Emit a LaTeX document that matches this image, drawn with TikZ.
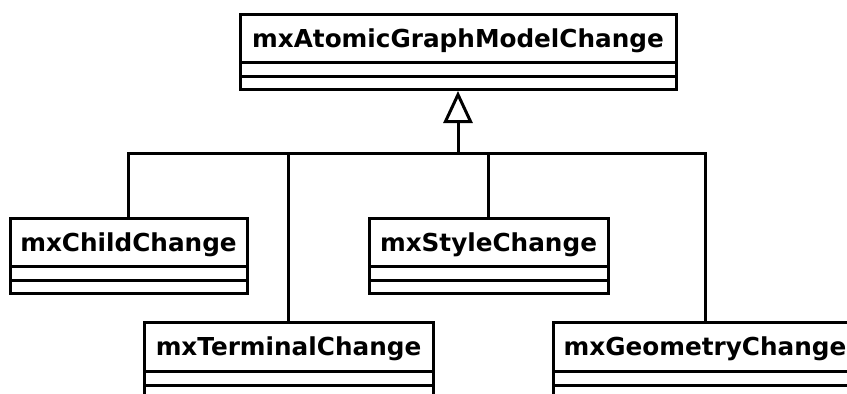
\documentclass[tikz,border=0pt]{standalone}
\usepackage{fontspec}
\newfontfamily\umlfont{DejaVu Sans}
\usetikzlibrary{arrows.meta,positioning}

\begin{document}
\begin{tikzpicture}[x=1pt,y=-1pt,line width=3pt,line join=miter]
  \tikzstyle{classname}=[rectangle,draw,anchor=north west,inner sep=0pt,outer sep=0pt,minimum height=48pt,text depth=0pt,font=\umlfont\bfseries\fontsize{24.7}{30}\selectfont]
  \tikzstyle{classpart}=[rectangle,draw,inner sep=0pt,outer sep=0pt,minimum height=14pt]
  \tikzstyle{inherit}=[-{Triangle[open,length=32pt,width=29pt]},shorten >=2pt]
  \useasboundingbox (0,0) rectangle (847,394);
  \clip (0,0) rectangle (847,394);
  % parent class
  \node[classname,minimum width=436pt] (top) at (240,14) {mxAtomicGraphModelChange};
  \node[classpart,minimum width=436pt,below=0pt of top] (topa) {};
  \node[classpart,minimum width=436pt,minimum height=13pt,below=0pt of topa] (topo) {};
  % subclasses
  \node[classname,minimum width=237pt] (child) at (10,218) {mxChildChange};
  \node[classpart,minimum width=237pt,below=0pt of child] (childa) {};
  \node[classpart,minimum width=237pt,minimum height=13pt,below=0pt of childa] (childo) {};
  \node[classname,minimum width=239pt] (style) at (369,218) {mxStyleChange};
  \node[classpart,minimum width=239pt,below=0pt of style] (stylea) {};
  \node[classpart,minimum width=239pt,minimum height=13pt,below=0pt of stylea] (styleo) {};
  \node[classname,minimum width=289pt,minimum height=49pt] (terminal) at (144,322) {mxTerminalChange};
  \node[classpart,minimum width=289pt,below=0pt of terminal] (terminala) {};
  \node[classpart,minimum width=289pt,minimum height=13pt,below=0pt of terminala] (terminalo) {};
  \node[classname,minimum width=304pt,minimum height=49pt] (geometry) at (553,322) {mxGeometryChange};
  \node[classpart,minimum width=304pt,below=0pt of geometry] (geometrya) {};
  \node[classpart,minimum width=304pt,minimum height=13pt,below=0pt of geometrya] (geometryo) {};
  % generalisation
  \coordinate (join) at (top.south |- 0,153);
  \draw[inherit] (join) -- (topo.south);
  \draw (child.north) |- (join);
  \draw (terminal.north) |- (join);
  \draw (style.north) |- (join);
  \draw (geometry.north) |- (join);
\end{tikzpicture}
\end{document}
